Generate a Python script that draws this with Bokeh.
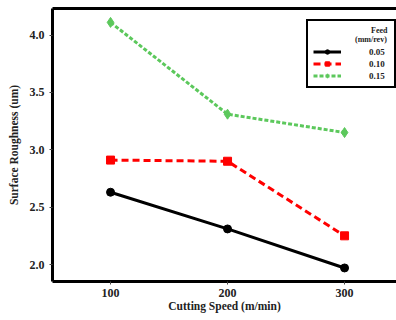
from bokeh.plotting import figure
from bokeh.models import Range1d, LinearAxis, FixedTicker, Legend, LegendItem, PrintfTickFormatter
from bokeh.embed import file_html
from bokeh.resources import INLINE

speeds = [100, 200, 300]
feed_005 = [2.63, 2.31, 1.97]
feed_010 = [2.91, 2.90, 2.25]
feed_015 = [4.11, 3.31, 3.15]
feed_labels = ["0.05", "0.10", "0.15"]
x_ticks = [100, 200, 300]
y_ticks = [2.0, 2.5, 3.0, 3.5, 4.0]

FONT = "Liberation Serif"

p = figure(width=396, height=320, output_backend="svg", toolbar_location=None,
           x_range=Range1d(50.4, 344.4), y_range=Range1d(1.852, 4.231),
           min_border_left=52, min_border_right=0, min_border_top=8, min_border_bottom=39)
p.outline_line_color = None
p.xgrid.visible = False
p.ygrid.visible = False

for ax in (p.xaxis[0], p.yaxis[0]):
    ax.axis_line_width = 3
    ax.axis_line_color = "black"
    ax.major_tick_line_width = 1
    ax.major_tick_line_color = "#444444"
    ax.major_tick_out = 3
    ax.major_tick_in = 0
    ax.minor_tick_line_color = None
    ax.major_label_text_font = FONT
    ax.major_label_text_font_style = "bold"
    ax.major_label_text_font_size = "12px"
    ax.major_label_text_color = "#222222"
    ax.axis_label_text_font = FONT
    ax.axis_label_text_font_style = "bold"
    ax.axis_label_text_font_size = "11.5px"
    ax.axis_label_text_color = "#222222"

p.xaxis.ticker = FixedTicker(ticks=x_ticks)
p.yaxis.ticker = FixedTicker(ticks=y_ticks)
p.yaxis.formatter = PrintfTickFormatter(format="%.1f")
p.xaxis.axis_label = "Cutting Speed (m/min)"
p.yaxis.axis_label = "Surface Roughness (um)"
p.xaxis.major_label_standoff = 4
p.xaxis.axis_label_standoff = 0
p.yaxis.major_label_standoff = 5
p.yaxis.axis_label_standoff = 7

top = LinearAxis(ticker=FixedTicker(ticks=[]), axis_line_width=3, axis_line_color="black",
                 major_tick_line_color=None, minor_tick_line_color=None)
p.add_layout(top, "above")

l1 = p.line(speeds, feed_005, line_color="black", line_width=3)
m1 = p.scatter(speeds, feed_005, marker="circle", size=8, color="black")
l2 = p.line(speeds, feed_010, line_color="#ff0000", line_width=3, line_dash="7 4")
m2 = p.scatter(speeds, feed_010, marker="square", size=8, color="#ff0000")
l3 = p.line(speeds, feed_015, line_color="#5cc85c", line_width=3, line_dash="4 2")
m3 = p.scatter(speeds, feed_015, marker="diamond", size=10, color="#5cc85c")

NB = "\u00a0"
legend = Legend(items=[LegendItem(label=feed_labels[0], renderers=[l1, m1]),
                       LegendItem(label=feed_labels[1], renderers=[l2, m2]),
                       LegendItem(label=feed_labels[2], renderers=[l3, m3])],
                title=NB * 29 + "Feed\n" + NB * 21 + "(mm/rev)", location=(254, 193))
legend.title_text_font = FONT
legend.title_text_font_style = "bold"
legend.title_text_font_size = "8px"
legend.title_text_color = "#222222"
legend.label_text_font = FONT
legend.label_text_font_style = "bold"
legend.label_text_font_size = "9px"
legend.label_text_color = "#222222"
legend.border_line_color = "black"
legend.border_line_alpha = 1
legend.border_line_width = 2
legend.glyph_width = 28
legend.glyph_height = 11
legend.label_height = 11
legend.spacing = 1
legend.label_standoff = 28
legend.padding = 5
legend.margin = 0
legend.title_standoff = 2
p.add_layout(legend, "center")

open("out.html", "w").write(file_html(p, INLINE))
